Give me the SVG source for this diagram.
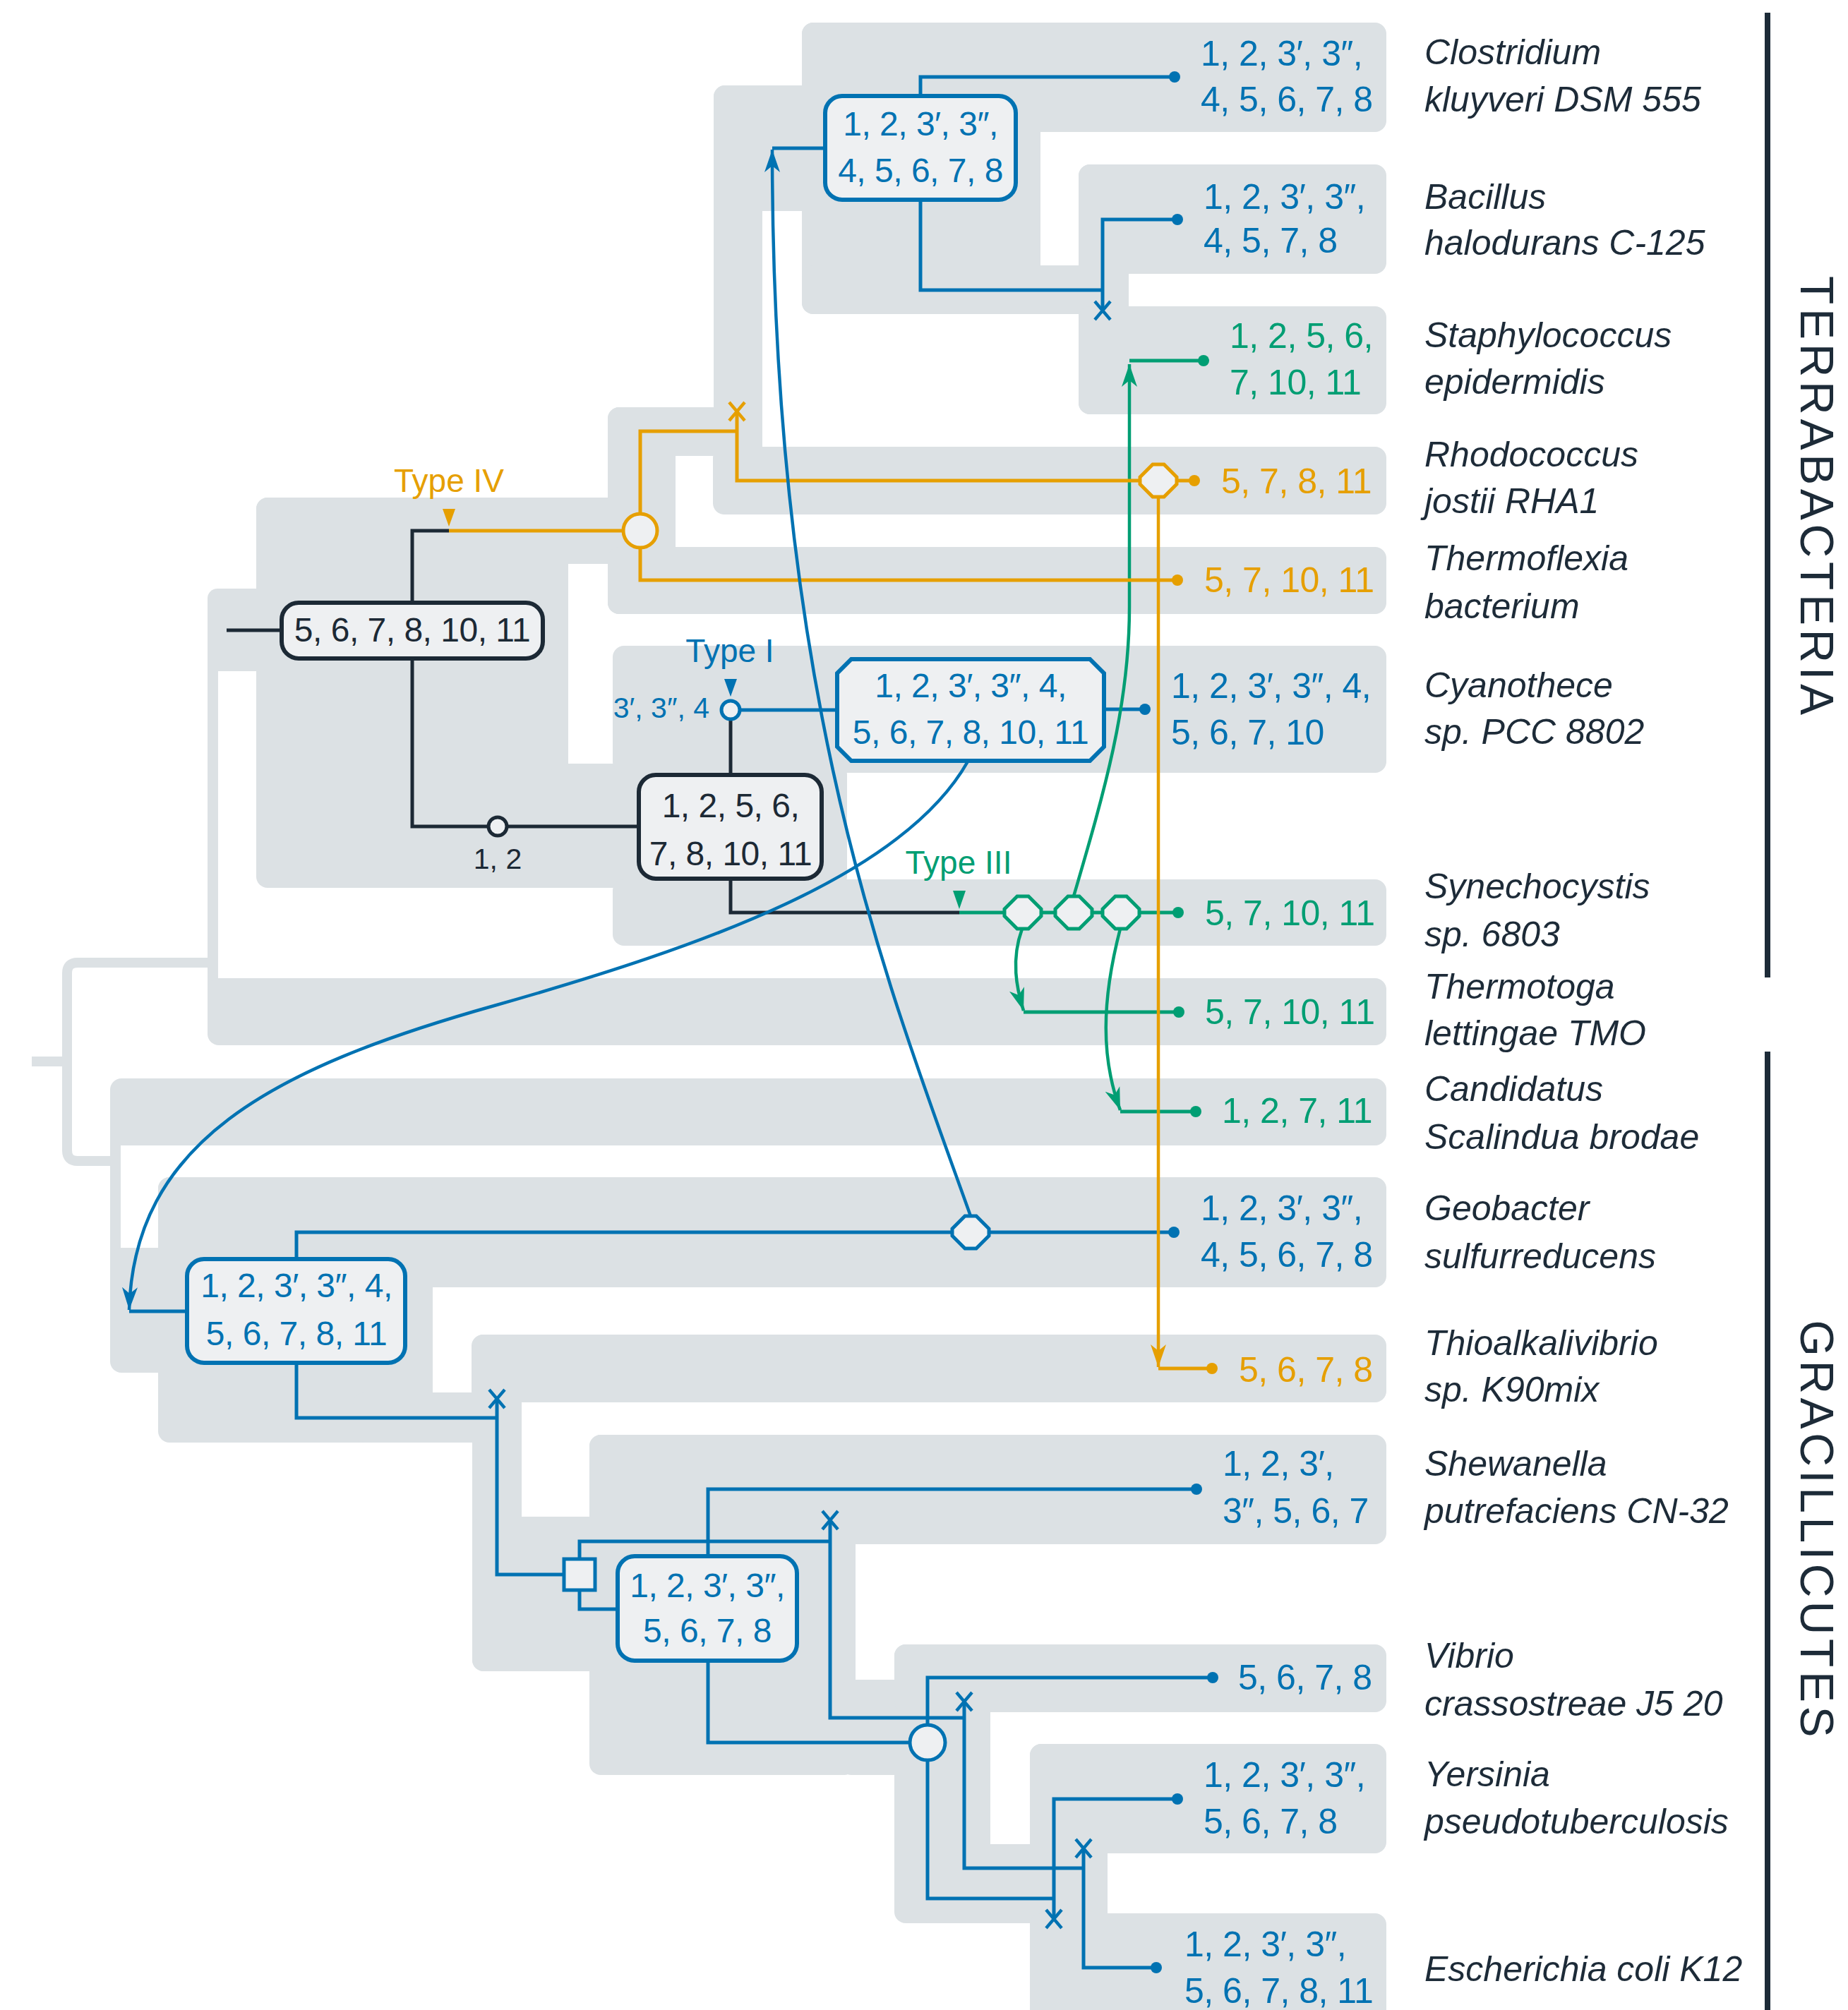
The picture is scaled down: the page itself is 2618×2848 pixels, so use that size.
<svg xmlns="http://www.w3.org/2000/svg" width="2618" height="2848" viewBox="0 0 2618 2848">
<style>
.g{fill:#dce1e4}
.ln{fill:none;stroke-width:5;stroke-linejoin:miter;stroke-linecap:butt}
.cv{fill:none;stroke-width:4.5}
.bl{stroke:#0072b2}.or{stroke:#e69f00}.gr{stroke:#009e73}.dk{stroke:#1c2935}
.box{fill:#eef0f2;stroke-width:6}
.nd{fill:#eef0f2;stroke-width:5}
.dotb{fill:#0072b2}.doto{fill:#e69f00}.dotg{fill:#009e73}
.sp{font-family:"Liberation Sans",Arial,sans-serif;font-style:italic;font-size:50px;fill:#1d2b38}
.tip{font-family:"Liberation Sans",Arial,sans-serif;font-size:50px;letter-spacing:-0.5px}
.bt{font-family:"Liberation Sans",Arial,sans-serif;font-size:48px;letter-spacing:-0.5px;text-anchor:middle}
.ty{font-family:"Liberation Sans",Arial,sans-serif;font-size:46px;text-anchor:middle}
.sm{font-family:"Liberation Sans",Arial,sans-serif;font-size:41px}
.side{font-family:"Liberation Sans",Arial,sans-serif;font-size:66px;fill:#1d2b38;text-anchor:middle}
.tb{fill:#0072b2}.to{fill:#e69f00}.tg{fill:#009e73}.td{fill:#1c2935}
</style>
<defs>
<marker id="ab" viewBox="0 0 32 24" refX="32" refY="12" markerWidth="32" markerHeight="24" markerUnits="userSpaceOnUse" orient="auto"><path d="M0,1 L32,12 L0,23 L9,12 Z" fill="#0072b2"/></marker>
<marker id="ag" viewBox="0 0 32 24" refX="32" refY="12" markerWidth="32" markerHeight="24" markerUnits="userSpaceOnUse" orient="auto"><path d="M0,1 L32,12 L0,23 L9,12 Z" fill="#009e73"/></marker>
<marker id="ao" viewBox="0 0 32 24" refX="32" refY="12" markerWidth="32" markerHeight="24" markerUnits="userSpaceOnUse" orient="auto"><path d="M0,1 L32,12 L0,23 L9,12 Z" fill="#e69f00"/></marker>
<polygon id="hex" points="-26,-5 -8,-23 8,-23 26,-5 26,5 8,23 -8,23 -26,5"/>
<path id="xm" d="M-11,-13 L11,13 M-11,13 L11,-13" fill="none" stroke-width="4.5"/>
</defs>

<g id="species-tree">
<path d="M300,1364 H110 Q95,1364 95,1379 V1630 Q95,1645 110,1645 H162 M45,1504 H95" fill="none" stroke="#dce1e4" stroke-width="14"/>
<rect class="g" x="294" y="834" width="100" height="117" rx="14"/>
<rect class="g" x="294" y="850" width="15" height="590"/>
<rect class="g" x="294" y="1386" width="1670" height="95" rx="16"/>
<rect class="g" x="363" y="705" width="442" height="553" rx="16"/>
<rect class="g" x="363" y="705" width="594" height="94" rx="16"/>
<rect class="g" x="861" y="577" width="96" height="293" rx="16"/>
<rect class="g" x="861" y="577" width="218" height="69" rx="16"/>
<rect class="g" x="1010" y="633" width="954" height="96" rx="16"/>
<rect class="g" x="861" y="775" width="1103" height="95" rx="16"/>
<rect class="g" x="780" y="1082" width="420" height="176" rx="16"/>
<rect class="g" x="780" y="1200" width="120" height="58"/>
<rect class="g" x="868" y="915" width="1096" height="180" rx="16"/>
<rect class="g" x="868" y="1246" width="1096" height="94" rx="16"/>
<rect class="g" x="1011" y="121" width="69" height="560" rx="16"/>
<rect class="g" x="1011" y="121" width="125" height="178" rx="16"/>
<rect class="g" x="1100" y="121" width="60" height="178"/>
<rect class="g" x="1136" y="32" width="338" height="413" rx="16"/>
<rect class="g" x="1136" y="32" width="828" height="155" rx="16"/>
<rect class="g" x="1136" y="376" width="420" height="69" rx="16"/>
<rect class="g" x="1528" y="233" width="436" height="155" rx="16"/>
<rect class="g" x="1528" y="233" width="71" height="354" rx="16"/>
<rect class="g" x="1528" y="434" width="436" height="153" rx="16"/>

<rect class="g" x="156" y="1528" width="1808" height="95" rx="16"/>
<rect class="g" x="156" y="1560" width="15" height="300"/>
<rect class="g" x="224" y="1668" width="1740" height="156" rx="16"/>
<rect class="g" x="156" y="1768" width="457" height="177" rx="16"/>
<rect class="g" x="224" y="1668" width="389" height="376" rx="16"/>
<rect class="g" x="500" y="1973" width="239" height="71" rx="16"/>
<rect class="g" x="668" y="1891" width="1296" height="96" rx="16"/>
<rect class="g" x="669" y="1891" width="70" height="477" rx="16"/>
<rect class="g" x="669" y="2149" width="200" height="219" rx="16"/>
<rect class="g" x="835" y="2033" width="377" height="482" rx="16"/>
<rect class="g" x="835" y="2033" width="1129" height="155" rx="16"/>
<rect class="g" x="1190" y="2380" width="110" height="135" rx="16"/>
<rect class="g" x="1267" y="2330" width="136" height="395" rx="16"/>
<rect class="g" x="1267" y="2330" width="697" height="96" rx="16"/>
<rect class="g" x="1300" y="2613" width="190" height="112" rx="16"/>
<rect class="g" x="1459" y="2471" width="505" height="155" rx="16"/>
<rect class="g" x="1459" y="2471" width="110" height="400" rx="16"/>
<rect class="g" x="1459" y="2711" width="505" height="170" rx="16"/>
</g>

<g id="connectors">
<path class="ln dk" d="M321,893 H399 M584,854 V752 H636 M584,933 V1171 H692 M718,1171 H905 M1035,1098 V1019 M1035,1245 V1293 H1359"/>
<path class="ln bl" d="M1304,136 V109 H1664 M1304,283 V411 H1562 M1562,440 V311 H1668 M1094,210 H1169 M1048,1006 H1186 M1564,1005 H1622 M420,1784 V1746 H1663 M183,1858 H265 M420,1931 V2009 H704 M704,1982 V2231 H799 M821,2209 V2184 H1176 M1176,2154 V2434 H1366 M821,2253 V2280 H875 M1003,2205 V2110 H1695 M1003,2353 V2469 H1289 M1314,2444 V2377 H1718 M1314,2494 V2690 H1493 M1493,2719 V2549 H1668 M1366,2411 V2647 H1535 M1535,2619 V2788 H1638"/>
<path class="ln gr" d="M1359,1293 H1669 M1450,1434 H1670 M1587,1575 H1694 M1600,511 H1705"/>
<path class="cv gr" d="M1521,1270 C1565,1120 1600,1000 1600,860 L1600,516" marker-end="url(#ag)"/>
<path class="cv gr" d="M1448,1316 C1432,1360 1440,1400 1450,1432" marker-end="url(#ag)"/>
<path class="cv gr" d="M1587,1316 C1560,1420 1560,1500 1587,1573" marker-end="url(#ag)"/>
<path class="ln or" d="M636,752 H883 M907,727 V611 H1044 M1044,583 V681 H1692 M907,776 V822 H1668 M1641,1939 H1717"/>
<path class="cv or" d="M1641,704 V1937" marker-end="url(#ao)"/>
<path class="cv bl" d="M1375,1723 C1260,1400 1094,1000 1094,212" marker-end="url(#ab)"/>
<path class="cv bl" d="M1371,1079 C1280,1240 1000,1340 700,1425 C380,1515 190,1620 183,1856" marker-end="url(#ab)"/>
</g>

<g id="node-root-box">
<rect class="box dk" x="399" y="854" width="370" height="79" rx="24"/>
<text class="bt td" x="584" y="909">5, 6, 7, 8, 10, 11</text>
</g>
<g id="node-typeIV">
<polygon points="627,721 645,721 636,746" fill="#e69f00"/>
<text class="ty to" x="636" y="697">Type IV</text>
<circle class="nd or" cx="907" cy="752" r="24"/>
<use href="#xm" x="1044" y="583" stroke="#e69f00"/>
<use href="#hex" x="1641" y="681" fill="#eef0f2" stroke="#e69f00" stroke-width="5"/>
</g>
<g id="node-12">
<circle class="nd dk" cx="705" cy="1171" r="13"/>
<text class="sm td" x="705" y="1231" text-anchor="middle">1, 2</text>
</g>
<g id="node-box2">
<rect class="box dk" x="905" y="1098" width="259" height="147" rx="24"/>
<text class="bt td" x="1035" y="1158">1, 2, 5, 6,</text>
<text class="bt td" x="1035" y="1226">7, 8, 10, 11</text>
</g>
<g id="node-typeI">
<polygon points="1026,962 1044,962 1035,987" fill="#0072b2"/>
<text class="ty tb" x="1034" y="938">Type I</text>
<circle class="nd bl" cx="1035" cy="1006" r="13"/>
<text class="sm tb" x="1005" y="1017" text-anchor="end">3′, 3″, 4</text>
</g>
<g id="node-box3">
<polygon class="box bl" points="1206,934 1544,934 1564,954 1564,1058 1544,1078 1206,1078 1186,1058 1186,954"/>
<text class="bt tb" x="1375" y="988">1, 2, 3′, 3″, 4,</text>
<text class="bt tb" x="1375" y="1054">5, 6, 7, 8, 10, 11</text>
</g>
<g id="node-typeIII">
<polygon points="1350,1262 1368,1262 1359,1288" fill="#009e73"/>
<text class="ty tg" x="1358" y="1238">Type III</text>
<use href="#hex" x="1449" y="1293" fill="#eef0f2" stroke="#009e73" stroke-width="5"/>
<use href="#hex" x="1521" y="1293" fill="#eef0f2" stroke="#009e73" stroke-width="5"/>
<use href="#hex" x="1588" y="1293" fill="#eef0f2" stroke="#009e73" stroke-width="5"/>
</g>
<g id="node-firmicutes">
<rect class="box bl" x="1169" y="136" width="270" height="147" rx="24"/>
<text class="bt tb" x="1304" y="192">1, 2, 3′, 3″,</text>
<text class="bt tb" x="1304" y="258">4, 5, 6, 7, 8</text>
<use href="#xm" x="1562" y="440" stroke="#0072b2"/>
</g>
<g id="node-gracilicutes">
<rect class="box bl" x="265" y="1784" width="309" height="147" rx="24"/>
<text class="bt tb" x="420" y="1838">1, 2, 3′, 3″, 4,</text>
<text class="bt tb" x="420" y="1906">5, 6, 7, 8, 11</text>
<use href="#hex" x="1375" y="1746" fill="#eef0f2" stroke="#0072b2" stroke-width="5"/>
<use href="#xm" x="704" y="1982" stroke="#0072b2"/>
</g>
<g id="node-proteo">
<rect class="nd bl" x="799" y="2209" width="44" height="44"/>
<rect class="box bl" x="875" y="2205" width="254" height="148" rx="24"/>
<text class="bt tb" x="1002" y="2263">1, 2, 3′, 3″,</text>
<text class="bt tb" x="1002" y="2327">5, 6, 7, 8</text>
<circle class="nd bl" cx="1314" cy="2469" r="25"/>
<use href="#xm" x="1176" y="2154" stroke="#0072b2"/>
<use href="#xm" x="1366" y="2411" stroke="#0072b2"/>
<use href="#xm" x="1535" y="2619" stroke="#0072b2"/>
<use href="#xm" x="1493" y="2719" stroke="#0072b2"/>
</g>

<g id="tips">
<circle class="dotb" cx="1664" cy="109" r="8"/>
<circle class="dotb" cx="1668" cy="311" r="8"/>
<circle class="dotg" cx="1705" cy="511" r="8"/>
<circle class="doto" cx="1692" cy="681" r="8"/>
<circle class="doto" cx="1668" cy="822" r="8"/>
<circle class="dotb" cx="1622" cy="1005" r="8"/>
<circle class="dotg" cx="1669" cy="1293" r="8"/>
<circle class="dotg" cx="1670" cy="1434" r="8"/>
<circle class="dotg" cx="1694" cy="1575" r="8"/>
<circle class="dotb" cx="1663" cy="1746" r="8"/>
<circle class="doto" cx="1717" cy="1939" r="8"/>
<circle class="dotb" cx="1695" cy="2110" r="8"/>
<circle class="dotb" cx="1718" cy="2377" r="8"/>
<circle class="dotb" cx="1668" cy="2549" r="8"/>
<circle class="dotb" cx="1638" cy="2788" r="8"/>

<text class="tip tb" x="1701" y="93">1, 2, 3′, 3″,</text>
<text class="tip tb" x="1701" y="158">4, 5, 6, 7, 8</text>
<text class="tip tb" x="1705" y="296">1, 2, 3′, 3″,</text>
<text class="tip tb" x="1705" y="358">4, 5, 7, 8</text>
<text class="tip tg" x="1742" y="493">1, 2, 5, 6,</text>
<text class="tip tg" x="1742" y="559">7, 10, 11</text>
<text class="tip to" x="1730" y="699">5, 7, 8, 11</text>
<text class="tip to" x="1706" y="839">5, 7, 10, 11</text>
<text class="tip tb" x="1659" y="989">1, 2, 3′, 3″, 4,</text>
<text class="tip tb" x="1659" y="1055">5, 6, 7, 10</text>
<text class="tip tg" x="1707" y="1311">5, 7, 10, 11</text>
<text class="tip tg" x="1707" y="1451">5, 7, 10, 11</text>
<text class="tip tg" x="1731" y="1591">1, 2, 7, 11</text>
<text class="tip tb" x="1701" y="1729">1, 2, 3′, 3″,</text>
<text class="tip tb" x="1701" y="1795">4, 5, 6, 7, 8</text>
<text class="tip to" x="1755" y="1958">5, 6, 7, 8</text>
<text class="tip tb" x="1732" y="2091">1, 2, 3′,</text>
<text class="tip tb" x="1732" y="2158">3″, 5, 6, 7</text>
<text class="tip tb" x="1754" y="2394">5, 6, 7, 8</text>
<text class="tip tb" x="1705" y="2532">1, 2, 3′, 3″,</text>
<text class="tip tb" x="1705" y="2598">5, 6, 7, 8</text>
<text class="tip tb" x="1678" y="2772">1, 2, 3′, 3″,</text>
<text class="tip tb" x="1678" y="2838">5, 6, 7, 8, 11</text>
</g>

<g id="species-names">
<text class="sp" x="2018" y="91">Clostridium</text>
<text class="sp" x="2018" y="158">kluyveri DSM 555</text>
<text class="sp" x="2018" y="296">Bacillus</text>
<text class="sp" x="2018" y="361">halodurans C-125</text>
<text class="sp" x="2018" y="492">Staphylococcus</text>
<text class="sp" x="2018" y="558">epidermidis</text>
<text class="sp" x="2018" y="661">Rhodococcus</text>
<text class="sp" x="2018" y="727">jostii RHA1</text>
<text class="sp" x="2018" y="808">Thermoflexia</text>
<text class="sp" x="2018" y="876">bacterium</text>
<text class="sp" x="2018" y="988">Cyanothece</text>
<text class="sp" x="2018" y="1054">sp. PCC 8802</text>
<text class="sp" x="2018" y="1273">Synechocystis</text>
<text class="sp" x="2018" y="1341">sp. 6803</text>
<text class="sp" x="2018" y="1415">Thermotoga</text>
<text class="sp" x="2018" y="1481">lettingae TMO</text>
<text class="sp" x="2018" y="1560">Candidatus</text>
<text class="sp" x="2018" y="1628">Scalindua brodae</text>
<text class="sp" x="2018" y="1729">Geobacter</text>
<text class="sp" x="2018" y="1797">sulfurreducens</text>
<text class="sp" x="2018" y="1920">Thioalkalivibrio</text>
<text class="sp" x="2018" y="1986">sp. K90mix</text>
<text class="sp" x="2018" y="2091">Shewanella</text>
<text class="sp" x="2018" y="2158">putrefaciens CN-32</text>
<text class="sp" x="2018" y="2363">Vibrio</text>
<text class="sp" x="2018" y="2431">crassostreae J5 20</text>
<text class="sp" x="2018" y="2531">Yersinia</text>
<text class="sp" x="2018" y="2598">pseudotuberculosis</text>
<text class="sp" x="2018" y="2807">Escherichia coli K12</text>
</g>

<g id="groups">
<rect x="2500" y="18" width="8" height="1367" fill="#1d2b38"/>
<rect x="2500" y="1490" width="8" height="1358" fill="#1d2b38"/>
<text class="side" transform="translate(2551,702) rotate(90)" textLength="622" lengthAdjust="spacing">TERRABACTERIA</text>
<text class="side" transform="translate(2551,2166) rotate(90)" textLength="591" lengthAdjust="spacing">GRACILLICUTES</text>
</g>
</svg>
